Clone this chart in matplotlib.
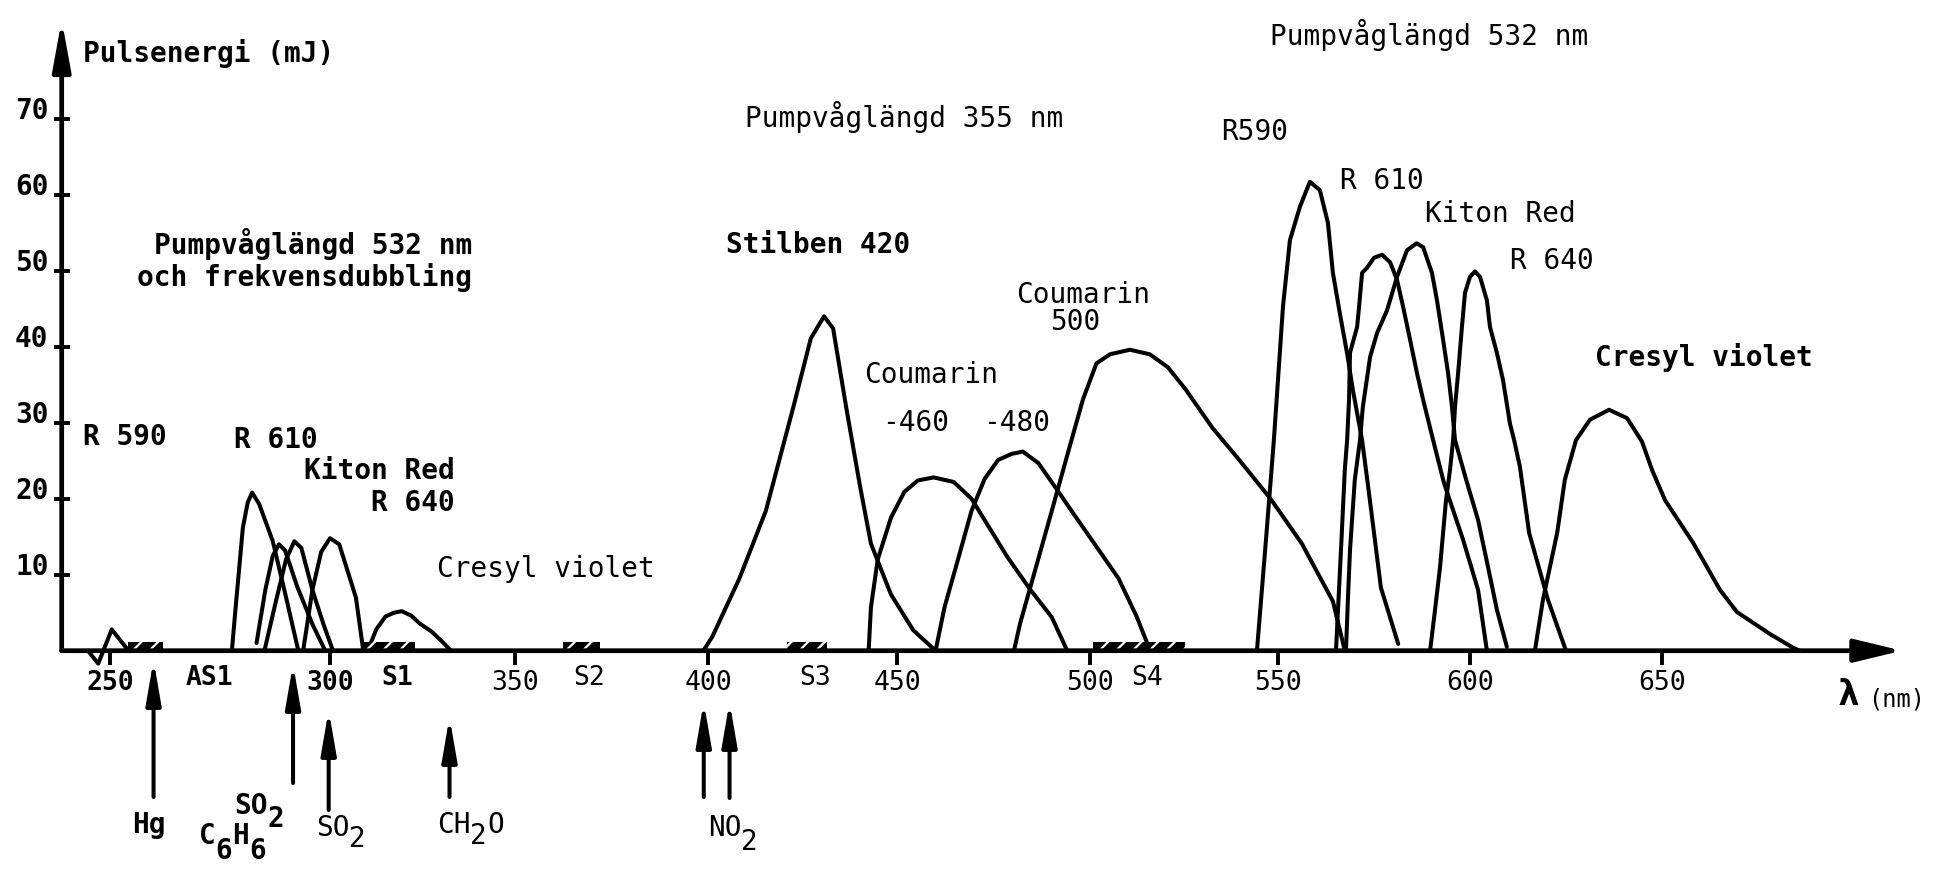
import numpy as np
import matplotlib
matplotlib.use('Agg')
import matplotlib.pyplot as plt
from matplotlib.transforms import Affine2D, blended_transform_factory

plt.rcParams['font.family'] = 'DejaVu Sans Mono'
plt.rcParams['hatch.linewidth'] = 1.6

W, H = 1937, 869

# ---------------- data: wavelength (nm) / pulse energy (mJ) ----------------
# pump 532 nm + frequency doubling
hg_nm = [244.2, 246.9, 250.4, 254.2]
hg_mj = [0, -1.7, 2.8, 0]

r590d_nm = [277.7, 278.6, 280.2, 281.3, 282.3, 283.9, 287.0, 289.9, 292.8]
r590d_mj = [0, 6.0, 16.2, 19.5, 20.8, 19.3, 14.4, 7.3, 0]

r610d_nm = [283.3, 285.3, 287.0, 288.4, 289.8, 292.5, 296.0, 298.9]
r610d_mj = [1.0, 8.0, 12.5, 14.0, 13.2, 8.5, 3.5, 0]

kitond_nm = [285.1, 287.5, 290.0, 291.9, 293.5, 296.0, 298.5, 300.8]
kitond_mj = [0, 6.0, 12.0, 14.4, 13.5, 8.0, 3.5, 0]

r640d_nm = [293.9, 296.0, 298.0, 300.0, 302.5, 307.0, 309.0]
r640d_mj = [0, 8.0, 13.0, 14.8, 14.0, 7.0, 0]

cresd_nm = [310.2, 312.5, 315.0, 317.3, 319.4, 322.0, 324.2, 327.5, 330.3, 332.7]
cresd_mj = [0, 2.8, 4.5, 5.0, 5.2, 4.6, 3.6, 2.5, 1.2, 0]

# pump 355 nm
stil_nm = [398.8, 401.2, 408.3, 415.3, 422.5, 427.2, 430.7, 433.1, 436.6, 440.2,
           443.1, 448.4, 454.2, 460.0]
stil_mj = [0, 1.9, 9.5, 18.4, 31.9, 41.1, 44.0, 42.4, 31.9, 21.7, 14.1, 7.4, 2.7, 0]

c460_nm = [442.5, 443.1, 444.9, 448.4, 451.9, 455.4, 459.5, 464.7, 469.3, 473.9,
           478.5, 484.3, 490.1, 494.1]
c460_mj = [0, 5.7, 12.0, 17.5, 20.9, 22.4, 22.8, 22.2, 20.0, 16.2, 12.4, 8.2, 4.4, 0]

c480_nm = [460.0, 462.3, 465.8, 469.3, 472.7, 476.2, 479.7, 482.6, 486.6, 491.3,
           495.9, 501.7, 507.6, 512.4, 516.0]
c480_mj = [0, 5.7, 12.0, 18.4, 22.6, 25.1, 25.9, 26.2, 24.7, 21.3, 17.9, 13.7, 9.5, 4.5, 0]

c500_nm = [480.3, 481.9, 485.4, 490.1, 494.7, 498.2, 501.7, 505.3, 510.6, 515.9,
           520.7, 525.4, 532.6, 539.7, 548.0, 556.2, 564.3, 567.4]
c500_mj = [0, 3.6, 9.9, 18.4, 26.8, 33.1, 37.8, 39.0, 39.6, 39.0, 37.3, 34.4, 29.3,
           25.1, 20.0, 14.1, 6.5, 0]

# pump 532 nm
r590_nm = [544.4, 546.8, 548.9, 551.3, 553.1, 555.7, 558.3, 560.9, 563.0, 564.3,
           566.1, 568.0, 569.5, 571.9, 573.7, 576.8, 581.3]
r590_mj = [0, 14.6, 27.7, 45.3, 54.0, 58.4, 61.7, 60.6, 56.3, 49.7, 44.4, 39.1, 34.3,
           27.7, 20.7, 8.3, 0.9]

r610_nm = [565.1, 566.4, 567.4, 568.0, 568.5, 568.75, 570.6, 571.1, 571.9, 573.2,
           575.0, 577.1, 579.2, 581.0, 582.6, 584.4, 586.2, 587.8, 590.4, 593.2,
           598.2, 602.1, 604.4]
r610_mj = [0, 13.25, 23.8, 27.7, 33.0, 39.2, 42.6, 45.2, 49.7, 50.4, 51.7, 52.1, 51.1,
           48.8, 45.2, 40.9, 36.5, 33.0, 27.7, 22.1, 14.6, 8.0, 0]

kiton_nm = [567.7, 568.2, 568.75, 570.0, 571.35, 572.1, 574.0, 575.8, 578.4, 581.0,
            583.6, 586.1, 587.8, 590.1, 591.4, 593.0, 594.3, 595.3, 596.1, 599.0,
            602.1, 604.7, 607.0, 609.6]
kiton_mj = [0, 6.7, 13.25, 22.5, 27.7, 32.1, 38.7, 41.8, 44.8, 49.2, 52.7, 53.6, 53.1,
            49.7, 46.1, 40.9, 36.5, 32.1, 27.7, 22.5, 17.2, 11.0, 5.4, 0.5]

r640_nm = [589.6, 590.9, 592.2, 593.75, 594.8, 595.6, 596.1, 596.9, 597.9, 598.7,
           600.0, 601.3, 602.6, 604.4, 605.2, 607.0, 608.6, 610.4, 611.5, 613.0,
           615.4, 620.3, 625.0]
r640_mj = [0, 5.4, 11.0, 19.8, 23.8, 27.7, 32.1, 36.5, 42.6, 47.1, 49.2, 49.9, 49.2,
           46.1, 42.6, 39.2, 35.6, 29.9, 27.7, 24.2, 15.5, 6.7, 0]

cres_nm = [616.9, 619.0, 622.7, 624.7, 627.6, 631.25, 636.2, 640.9, 644.8, 647.4,
           650.8, 658.1, 665.1, 669.5, 678.1, 684.1, 685.9]
cres_mj = [0, 6.7, 15.5, 22.5, 27.7, 30.4, 31.7, 30.6, 27.5, 23.8, 19.8, 14.2, 8.0,
           5.1, 2.2, 0.4, 0]

# sample bands on the wavelength axis
band_names = ['', 'S1', 'S2', 'S3', 'S4']
band_lo = [254.1, 308.9, 362.4, 420.9, 500.8]
band_hi = [262.0, 323.0, 372.0, 431.5, 525.3]

# absorption lines marked with arrows
gas_nm = [259.9, 291.6, 299.7, 332.3, 398.9, 405.7]

xticks_nm = [250, 300, 350, 400, 450, 500, 550, 600, 650]
yticks_mj = [10, 20, 30, 40, 50, 60, 70]

# ---------------- axis: hand drawn, spacing not quite even ----------------
axis_nm = [200, 250, 300, 350, 400, 450, 500, 550, 600, 650, 750]
axis_px = [-80, 110, 330, 515, 708, 897, 1090, 1278, 1470, 1662, 2046]


def fwd(v):
    return np.interp(v, axis_nm, axis_px)


def inv(p):
    return np.interp(p, axis_px, axis_nm)


fig = plt.figure(figsize=(W / 100, H / 100), dpi=100)
ax = fig.add_axes([0, 0, 1, 1])
ax.set_xscale('function', functions=(fwd, inv))
ax.set_xlim(inv(0), inv(W))
ax.set_ylim(-(H - 650.7) / 7.6, 650.7 / 7.6)

px = Affine2D().scale(1 / W, -1 / H).translate(0, 1) + fig.transFigure
blend = blended_transform_factory(ax.transData, px)

yaxis_nm = inv(61.7)

# curves
curves = [(hg_nm, hg_mj), (r590d_nm, r590d_mj), (r610d_nm, r610d_mj),
          (kitond_nm, kitond_mj), (r640d_nm, r640d_mj), (cresd_nm, cresd_mj),
          (stil_nm, stil_mj), (c460_nm, c460_mj), (c480_nm, c480_mj),
          (c500_nm, c500_mj), (r590_nm, r590_mj), (r610_nm, r610_mj),
          (kiton_nm, kiton_mj), (r640_nm, r640_mj), (cres_nm, cres_mj)]
for xs, ys in curves:
    ax.plot(xs, ys, color='black', lw=2.9, solid_joinstyle='round',
            solid_capstyle='round', zorder=3)

# sample bands
ax.bar(band_lo, 1.2, width=np.subtract(band_hi, band_lo), bottom=0, align='edge',
       color='black', edgecolor='white', hatch='//', linewidth=0, zorder=4)
for name, lo, hi in zip(band_names, band_lo, band_hi):
    if name:
        ax.text(fwd((lo + hi) / 2) + 8, 678, name, transform=px, ha='center', va='center',
                fontsize=19, fontweight='bold' if name == 'S1' else 'normal')

# axes with arrows
ax.annotate('', xy=(inv(1902), 0), xytext=(yaxis_nm, 0),
            arrowprops=dict(arrowstyle='-|>,head_length=2.9,head_width=0.7',
                            mutation_scale=10, lw=3.4, color='black',
                            shrinkA=0, shrinkB=0), zorder=5)
ax.annotate('', xy=(yaxis_nm, (650.7 - 20) / 7.6), xytext=(yaxis_nm, 0),
            arrowprops=dict(arrowstyle='-|>,head_length=3.0,head_width=0.55',
                            mutation_scale=10, lw=3.4, color='black',
                            shrinkA=0, shrinkB=0), zorder=5)

for s in ['top', 'right']:
    ax.spines[s].set_visible(False)
ax.spines['bottom'].set_position(('data', 0))
ax.spines['left'].set_position(('data', yaxis_nm))
ax.spines['bottom'].set_linewidth(0)
ax.spines['left'].set_linewidth(0)
ax.set_xticks(xticks_nm)
ax.set_yticks(yticks_mj)
ax.tick_params(axis='x', direction='out', length=10, width=2.8, pad=4, labelsize=19)
ax.tick_params(axis='y', direction='inout', length=12, width=2.8, pad=3.5, labelsize=20)
for t in ax.get_yticklabels():
    t.set_va('baseline')
    t.set_fontweight('bold')
for t in ax.get_xticklabels():
    if t.get_text() in ('250', '300'):
        t.set_fontweight('bold')

# gas absorption arrows
arrow_tip = [660, 664, 710, 717, 702, 702]
arrow_tail = [797, 783, 810, 797, 797, 798]
for g, tip, tail in zip(gas_nm, arrow_tip, arrow_tail):
    ax.annotate('', xy=(g, tip), xycoords=blend, xytext=(g, tail), textcoords=blend,
                arrowprops=dict(arrowstyle='-|>,head_length=2.6,head_width=0.45',
                                mutation_scale=10, lw=2.9, color='black',
                                shrinkA=0, shrinkB=0))


def lab(x, y, s, ha='left', weight='normal', size=20):
    ax.text(x, y, s, transform=px, ha=ha, va='center', fontsize=size,
            fontweight=weight, zorder=6)


CHAR_W = 0.602 * 20 / 72 * 100  # monospace advance at 20 pt, in pixels


def chem(x, y, parts, dy=13, weight='normal'):
    # typewriter style: subscript digits typed full size, half a line lower
    for s, low in parts:
        lab(x, y + (dy if low else 0), s, weight=weight)
        x += len(s) * CHAR_W


lab(83, 53, 'Pulsenergi (mJ)', weight='bold')
lab(472, 244, 'Pumpvåglängd 532 nm', ha='right', weight='bold')
lab(472, 278, 'och frekvensdubbling', ha='right', weight='bold')
lab(745, 117, 'Pumpvåglängd 355 nm')
lab(1270, 35, 'Pumpvåglängd 532 nm')

lab(83, 437, 'R 590', weight='bold')
lab(234, 440, 'R 610', weight='bold')
lab(304, 471, 'Kiton Red', weight='bold')
lab(371, 503, 'R 640', weight='bold')
lab(437, 569, 'Cresyl violet')

lab(726, 245, 'Stilben 420', weight='bold')
lab(864, 375, 'Coumarin')
lab(882, 423, '-460')
lab(983, 423, '-480')
lab(1016, 295, 'Coumarin')
lab(1050, 322, '500')

lab(1221, 132, 'R590')
lab(1340, 181, 'R 610')
lab(1425, 214, 'Kiton Red')
lab(1510, 261, 'R 640')
lab(1595, 357, 'Cresyl violet', weight='bold')

lab(209, 678, 'AS1', ha='center', weight='bold', size=19)
lab(1848, 695, 'λ', ha='center', weight='bold', size=26)
lab(1868, 699, '(nm)', size=17)

lab(149, 825, 'Hg', ha='center', weight='bold')
chem(234, 806, [('SO', False), ('2', True)], dy=13, weight='bold')
chem(199, 836, [('C', False), ('6', True), ('H', False), ('6', True)], dy=15,
     weight='bold')
chem(316, 828, [('SO', False), ('2', True)], dy=11)
chem(437, 825, [('CH', False), ('2', True), ('O', False)], dy=11)
chem(708, 828, [('NO', False), ('2', True)], dy=14)

fig.savefig('out.png', dpi=100)
